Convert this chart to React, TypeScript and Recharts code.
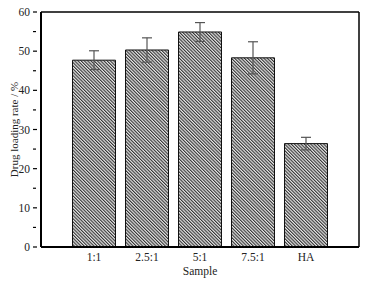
import React from 'react';
import { BarChart, Bar, XAxis, YAxis, ErrorBar, Label } from 'recharts';

const categories = ['1:1', '2.5:1', '5:1', '7.5:1', 'HA'];
const loading = [47.7, 50.3, 54.9, 48.3, 26.4];
const errors = [2.4, 3.1, 2.4, 4.1, 1.6];
const yTicks = [0, 5, 10, 15, 20, 25, 30, 35, 40, 45, 50, 55, 60];

const data = categories.map((c, i) => ({ name: c, value: loading[i], err: errors[i] }));

const FONT = 'Liberation Serif, Times New Roman, serif';

const YTick = (props: any) => {
  const { x, y, payload } = props;
  const v = payload.value;
  const major = v % 10 === 0;
  return (
    <g>
      <line x1={x} y1={y} x2={x + (major ? 4 : 3)} y2={y} stroke="#000" strokeWidth={1.2} />
      {major && (
        <text x={x - 3} y={y} dy={4} textAnchor="end" fontSize={11.5} fontFamily={FONT} fill="#222">
          {v}
        </text>
      )}
    </g>
  );
};

export default function App() {
  return (
    <div style={{ position: 'absolute', left: 0, top: 0, width: 371, height: 281, background: '#fff' }}>
      <svg width={0} height={0} style={{ position: 'absolute' }}>
        <defs>
          <pattern id="hatch" width="2.3" height="2.3" patternUnits="userSpaceOnUse" patternTransform="rotate(-45)">
            <rect x="0" y="0" width="2.3" height="2.3" fill="#e6e6e6" />
            <line x1="0.55" y1="0" x2="0.55" y2="2.3" stroke="#333" strokeWidth="1.1" />
          </pattern>
        </defs>
      </svg>
      <BarChart
        width={371}
        height={281}
        data={data}
        margin={{ top: 11, right: 11, left: 0, bottom: 0 }}
        barSize={43}
      >
        <XAxis
          dataKey="name"
          height={34}
          padding={{ left: 26.5, right: 26.5 }}
          axisLine={{ stroke: '#000', strokeWidth: 2 }}
          tickLine={false}
          tick={{ fontSize: 11.5, fontFamily: FONT, fill: '#222' }}
          tickMargin={0}
          interval={0}
        >
          <Label value="Sample" position="insideBottom" offset={6} style={{ fontSize: 11.5, fontFamily: FONT, fill: '#222' }} />
        </XAxis>
        <XAxis
          xAxisId="top"
          dataKey="name"
          orientation="top"
          height={1}
          tick={false}
          tickLine={false}
          axisLine={{ stroke: '#000', strokeWidth: 1.5 }}
        />
        <YAxis
          width={41}
          domain={[0, 60]}
          ticks={yTicks}
          interval={0}
          axisLine={{ stroke: '#000', strokeWidth: 2 }}
          tickLine={false}
          tick={<YTick />}
        >
          <Label
            value="Drug loading rate / %"
            angle={-90}
            position="insideLeft"
            offset={14}
            style={{ textAnchor: 'middle', fontSize: 11, fontFamily: FONT, fill: '#222' }}
          />
        </YAxis>
        <YAxis
          yAxisId="right"
          orientation="right"
          width={1}
          domain={[0, 60]}
          tick={false}
          tickLine={false}
          axisLine={{ stroke: '#000', strokeWidth: 1.5 }}
        />
        <Bar dataKey="value" fill="url(#hatch)" stroke="#111" strokeWidth={1} isAnimationActive={false}>
          <ErrorBar dataKey="err" width={5} stroke="#555" strokeWidth={1.2} />
        </Bar>
      </BarChart>
    </div>
  );
}
